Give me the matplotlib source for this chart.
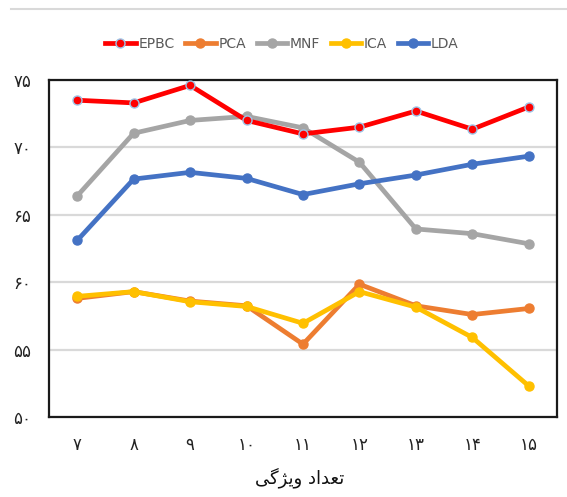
import matplotlib
matplotlib.use("Agg")
import matplotlib.pyplot as plt
from matplotlib.lines import Line2D

# Number of features (x) and accuracy (%) of each method
features = [7, 8, 9, 10, 11, 12, 13, 14, 15]
epbc = [73.5, 73.3, 74.6, 72.0, 71.0, 71.5, 72.7, 71.35, 73.0]
pca = [58.8, 59.3, 58.6, 58.25, 55.4, 59.85, 58.25, 57.6, 58.05]
mnf = [66.4, 71.05, 72.0, 72.3, 71.45, 68.9, 63.95, 63.6, 62.85]
ica = [58.95, 59.3, 58.55, 58.2, 56.95, 59.3, 58.15, 55.9, 52.3]
lda = [63.1, 67.65, 68.15, 67.7, 66.5, 67.3, 67.95, 68.75, 69.35]

series_names = ["EPBC", "PCA", "MNF", "ICA", "LDA"]
y_ticks = [50, 55, 60, 65, 70, 75]

PERSIAN_DIGITS = str.maketrans("0123456789", "۰۱۲۳۴۵۶۷۸۹")


def fa(n):
    return str(n).translate(PERSIAN_DIGITS)


# "تعداد ویژگی" written with shaped presentation forms in display order
x_title = "\uFBFD\uFB94\uFB8B\uFBFE\uFEED \uFEA9\uFE8D\uFEAA\uFECC\uFE97"

colors = {
    "EPBC": "#FF0000",
    "PCA": "#ED7D31",
    "MNF": "#A5A5A5",
    "ICA": "#FFC000",
    "LDA": "#4472C4",
}
data = {"EPBC": epbc, "PCA": pca, "MNF": mnf, "ICA": ica, "LDA": lda}

fig = plt.figure(figsize=(5.67, 4.97), dpi=100)
ax = fig.add_axes([49 / 567, (497 - 417) / 497, 508 / 567, 337 / 497])

draw_order = ["MNF", "LDA", "PCA", "ICA", "EPBC"]
for name in draw_order:
    edge = "#9DC3E6" if name == "EPBC" else colors[name]
    ax.plot(features, data[name], color=colors[name], lw=3.4,
            marker="o", ms=6.5, mfc=colors[name], mec=edge, mew=1.0,
            solid_capstyle="round", zorder=3)

ax.set_xlim(6.5, 15.5)
ax.set_ylim(50, 75)
ax.set_yticks(y_ticks)
ax.set_yticklabels([fa(v) for v in y_ticks])
ax.set_xticks(features)
ax.set_xticklabels([fa(v) for v in features])
ax.tick_params(length=0, labelsize=12, colors="#222222", pad=14)
ax.tick_params(axis="y", pad=13)
ax.yaxis.grid(True, color="#D9D9D9", lw=1.6)
ax.set_axisbelow(True)
for sp in ax.spines.values():
    sp.set_color("#1a1a1a")
    sp.set_linewidth(1.6)

fig.text(300 / 567, 1 - 478 / 497, x_title, ha="center", va="center",
         fontsize=13, color="#111111", family="DejaVu Sans")

handles = []
for name in series_names:
    edge = "#9DC3E6" if name == "EPBC" else colors[name]
    handles.append(Line2D([], [], color=colors[name], lw=3.4, marker="o",
                          ms=6.5, mfc=colors[name], mec=edge, mew=1.0))
fig.legend(handles, series_names, loc="center", ncol=5,
           bbox_to_anchor=(282 / 567, 1 - 44 / 497), frameon=False,
           handlelength=2.2, handletextpad=0.2, columnspacing=0.75,
           prop={"family": "DejaVu Sans", "size": 10},
           labelcolor="#595959")

fig.add_artist(Line2D([11 / 567, 1.0], [1 - 9 / 497, 1 - 9 / 497],
                      color="#D9D9D9", lw=1.5, transform=fig.transFigure))

fig.savefig("out.png", dpi=100)
